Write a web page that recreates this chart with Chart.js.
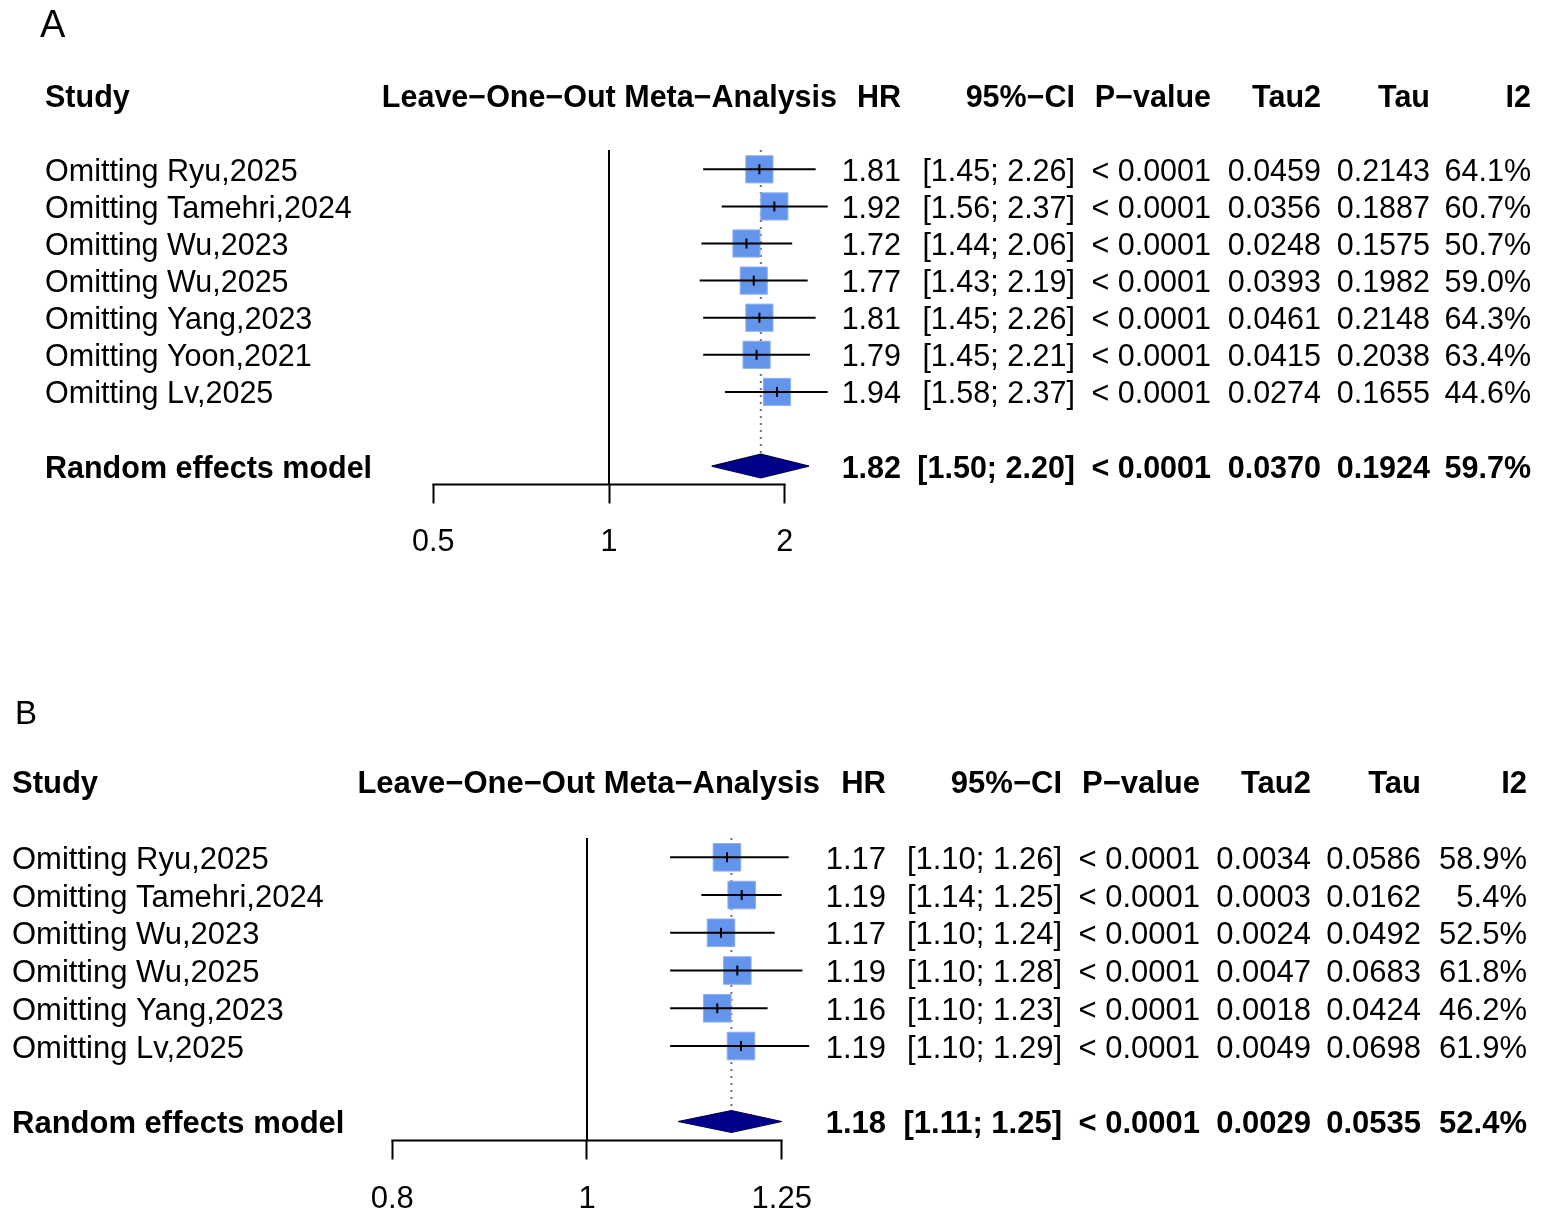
<!DOCTYPE html>
<html>
<head>
<meta charset="utf-8">
<script src="https://cdn.jsdelivr.net/npm/chart.js@4.4.1/dist/chart.umd.min.js"></script>
<style>
  html, body { margin: 0; padding: 0; background: #ffffff; }
  body { width: 1541px; height: 1220px; position: relative; overflow: hidden; }
  canvas { position: absolute; left: 0; }
</style>
</head>
<body>
<canvas id="panelA" width="1541" height="610" style="top:0px"></canvas>
<canvas id="panelB" width="1541" height="610" style="top:610px"></canvas>
<script>
// ---------------- DATA : panel A ----------------
const studiesA = ["Omitting Ryu,2025", "Omitting Tamehri,2024", "Omitting Wu,2023", "Omitting Wu,2025",
                  "Omitting Yang,2023", "Omitting Yoon,2021", "Omitting Lv,2025"];
const hrA    = [1.81, 1.92, 1.72, 1.77, 1.81, 1.79, 1.94];
const lowerA = [1.45, 1.56, 1.44, 1.43, 1.45, 1.45, 1.58];
const upperA = [2.26, 2.37, 2.06, 2.19, 2.26, 2.21, 2.37];
const pA     = ["< 0.0001", "< 0.0001", "< 0.0001", "< 0.0001", "< 0.0001", "< 0.0001", "< 0.0001"];
const tau2A  = ["0.0459", "0.0356", "0.0248", "0.0393", "0.0461", "0.0415", "0.0274"];
const tauA   = ["0.2143", "0.1887", "0.1575", "0.1982", "0.2148", "0.2038", "0.1655"];
const i2A    = ["64.1%", "60.7%", "50.7%", "59.0%", "64.3%", "63.4%", "44.6%"];
const pooledA      = [1.82, 1.50, 2.20];            // HR, lower, upper
const pooledStatsA = ["< 0.0001", "0.0370", "0.1924", "59.7%"];
const ticksA = [0.5, 1, 2];

// ---------------- DATA : panel B ----------------
const studiesB = ["Omitting Ryu,2025", "Omitting Tamehri,2024", "Omitting Wu,2023", "Omitting Wu,2025",
                  "Omitting Yang,2023", "Omitting Lv,2025"];
const hrB    = [1.174, 1.194, 1.166, 1.188, 1.161, 1.193];
const lowerB = [1.10, 1.14, 1.10, 1.10, 1.10, 1.10];
const upperB = [1.26, 1.25, 1.24, 1.28, 1.23, 1.29];
const pB     = ["< 0.0001", "< 0.0001", "< 0.0001", "< 0.0001", "< 0.0001", "< 0.0001"];
const tau2B  = ["0.0034", "0.0003", "0.0024", "0.0047", "0.0018", "0.0049"];
const tauB   = ["0.0586", "0.0162", "0.0492", "0.0683", "0.0424", "0.0698"];
const i2B    = ["58.9%", "5.4%", "52.5%", "61.8%", "46.2%", "61.9%"];
const pooledB      = [1.18, 1.11, 1.25];
const pooledStatsB = ["< 0.0001", "0.0029", "0.0535", "52.4%"];
const ticksB = [0.8, 1, 1.25];

const headerLabels = ["Study", "Leave\u2212One\u2212Out Meta\u2212Analysis", "HR", "95%\u2212CI",
                      "P\u2212value", "Tau2", "Tau", "I2"];

// ---------------- drawing ----------------
const FONT = "'Liberation Sans', Arial, Helvetica, sans-serif";
const PAGE_W = 1541;

const forestText = {
  id: 'forestText',
  afterDraw(chart, args, o) {
    const ctx = chart.ctx;
    const ys = chart.scales.y;
    ctx.save();
    ctx.fillStyle = '#000';
    ctx.textBaseline = 'alphabetic';
    ctx.textAlign = 'left';
    ctx.font = o.letterSize + 'px ' + FONT;
    ctx.fillText(o.letter, o.letterX, o.letterY);
    const drawRow = (vals, v, bold) => {
      ctx.font = (bold ? 'bold ' : '') + o.fontSize + 'px ' + FONT;
      const py = ys.getPixelForValue(v) + o.baseShift;
      vals.forEach((t, i) => {
        if (t === null || t === undefined || t === '') return;
        ctx.textAlign = o.columns[i].align;
        ctx.fillText(t, o.columns[i].x, py);
      });
    };
    drawRow(headerLabels, -2, true);
    o.rows.forEach((r, i) => drawRow(r, i, false));
    drawRow(o.pooledRowText, o.pooledRow, true);
    ctx.restore();
  }
};

function ciText(lo, hi) { return '[' + lo.toFixed(2) + '; ' + hi.toFixed(2) + ']'; }

function makePanel(id, p) {
  const rowsText = p.studies.map((s, i) => [s, null, p.hr[i].toFixed(2), ciText(p.lower[i], p.upper[i]),
                                            p.pv[i], p.tau2[i], p.tau[i], p.i2[i]]);
  const pooledRowText = ["Random effects model", null, p.pooled[0].toFixed(2), ciText(p.pooled[1], p.pooled[2])]
                        .concat(p.pooledStats);
  const r = p.pooledRow;
  const h = p.diamondHalf;
  const tMin = p.ticks[0], tMax = p.ticks[p.ticks.length - 1];
  // scale extends a little past the last tick so the diamond is not clipped
  const rightPx = p.axisLeftPx + (p.axisRightPx - p.axisLeftPx) *
                  Math.log(p.xMaxExt / tMin) / Math.log(tMax / tMin);
  const datasets = [];
  // point-estimate tick marks
  datasets.push({
    data: p.hr.map((v, i) => ({ x: v, y: i })), showLine: false,
    pointStyle: 'line', rotation: 90, pointRadius: 5, borderColor: '#000', backgroundColor: '#000',
    pointBorderWidth: 2, borderWidth: 2, order: 0, clip: false
  });
  // confidence-interval lines
  p.hr.forEach((v, i) => datasets.push({
    data: [{ x: p.lower[i], y: i }, { x: p.upper[i], y: i }], showLine: true,
    borderColor: '#000', borderWidth: 2, pointRadius: 0, fill: false, order: 1, clip: false
  }));
  // squares
  datasets.push({
    data: p.hr.map((v, i) => ({ x: v, y: i })), showLine: false,
    pointStyle: 'rect', pointRadius: p.boxRadius, backgroundColor: '#6495ED', borderColor: '#8eaff0',
    pointBorderWidth: 1, borderWidth: 1, order: 2, clip: false
  });
  // diamond: upper half filled down to lower half
  datasets.push({
    data: [{ x: p.pooled[1], y: r }, { x: p.pooled[0], y: r - h }, { x: p.pooled[2], y: r }],
    showLine: true, tension: 0, pointRadius: 0, borderColor: '#00003a', borderWidth: 1.2,
    backgroundColor: '#00008B', fill: '+1', order: 3, clip: false
  });
  datasets.push({
    data: [{ x: p.pooled[1], y: r }, { x: p.pooled[0], y: r + h }, { x: p.pooled[2], y: r }],
    showLine: true, tension: 0, pointRadius: 0, borderColor: '#00003a', borderWidth: 1.2,
    backgroundColor: '#00008B', fill: false, order: 3, clip: false
  });
  // dotted line at pooled estimate
  datasets.push({
    data: [{ x: p.pooled[0], y: p.yMin }, { x: p.pooled[0], y: r - h }], showLine: true,
    borderColor: '#707070', borderWidth: 2, borderDash: [2, 5], pointRadius: 0, fill: false, order: 4, clip: false
  });
  // reference line at 1
  datasets.push({
    data: [{ x: 1, y: p.yMin }, { x: 1, y: p.yMax }], showLine: true,
    borderColor: '#000', borderWidth: 2, pointRadius: 0, fill: false, order: 5, clip: false
  });
  // axis base line between first and last tick
  datasets.push({
    data: [{ x: tMin, y: p.yMax }, { x: tMax, y: p.yMax }], showLine: true,
    borderColor: '#000', borderWidth: 2, pointRadius: 0, fill: false, order: 6, clip: false,
    borderCapStyle: 'square'
  });

  return new Chart(document.getElementById(id), {
    type: 'line',
    data: { datasets },
    options: {
      responsive: false,
      animation: false,
      events: [],
      layout: { padding: { top: p.padTop, left: p.axisLeftPx, right: PAGE_W - rightPx, bottom: 0 } },
      plugins: {
        legend: { display: false },
        tooltip: { enabled: false },
        filler: { propagate: false },
        forestText: {
          letter: p.letter, letterX: p.letterX, letterY: p.letterY, letterSize: p.letterSize,
          fontSize: p.fontSize, baseShift: p.baseShift, columns: p.columns,
          rows: rowsText, pooledRowText, pooledRow: r
        }
      },
      scales: {
        x: {
          type: 'logarithmic', position: 'bottom', min: tMin, max: p.xMaxExt,
          afterBuildTicks: s => { s.ticks = p.ticks.map(v => ({ value: v })); },
          afterFit: s => { s.height = p.axisHeight; },
          ticks: { callback: v => String(v), color: '#000', font: { family: FONT, size: p.fontSize },
                   padding: p.tickPad, maxRotation: 0, autoSkip: false },
          grid: { drawOnChartArea: false, drawTicks: true, tickLength: 19, tickWidth: 2, tickColor: '#000' },
          border: { display: false }
        },
        y: { type: 'linear', display: false, reverse: true, min: p.yMin, max: p.yMax }
      }
    },
    plugins: [forestText]
  });
}

makePanel('panelA', {
  studies: studiesA, hr: hrA, lower: lowerA, upper: upperA, pv: pA, tau2: tau2A, tau: tauA, i2: i2A,
  pooled: pooledA, pooledStats: pooledStatsA, ticks: ticksA, pooledRow: 8, xMaxExt: 2.5,
  letter: 'A', letterX: 40, letterY: 37, letterSize: 38,
  fontSize: 30.5, baseShift: 11.5,
  columns: [{ x: 45, align: 'left' }, { x: 837, align: 'right' }, { x: 901, align: 'right' },
            { x: 1075, align: 'right' }, { x: 1211, align: 'right' }, { x: 1321, align: 'right' },
            { x: 1430, align: 'right' }, { x: 1531, align: 'right' }],
  padTop: 150, axisLeftPx: 433.3, axisRightPx: 784.7, axisHeight: 610 - 484.5, tickPad: 21,
  yMin: (150 - 169.3) / 37.1, yMax: (484.5 - 169.3) / 37.1, diamondHalf: 0.32, boxRadius: 19.2
});

makePanel('panelB', {
  studies: studiesB, hr: hrB, lower: lowerB, upper: upperB, pv: pB, tau2: tau2B, tau: tauB, i2: i2B,
  pooled: pooledB, pooledStats: pooledStatsB, ticks: ticksB, pooledRow: 7, xMaxExt: 1.32,
  letter: 'B', letterX: 15, letterY: 113.5, letterSize: 33,
  fontSize: 31, baseShift: 11.5,
  columns: [{ x: 12, align: 'left' }, { x: 820, align: 'right' }, { x: 886, align: 'right' },
            { x: 1062, align: 'right' }, { x: 1200, align: 'right' }, { x: 1311, align: 'right' },
            { x: 1421, align: 'right' }, { x: 1527, align: 'right' }],
  padTop: 228, axisLeftPx: 392.3, axisRightPx: 781.7, axisHeight: 610 - 530.5, tickPad: 21,
  yMin: (838 - 857.3) / 37.74, yMax: (1140.5 - 857.3) / 37.74, diamondHalf: 0.29, boxRadius: 19.5
});
</script>
</body>
</html>
